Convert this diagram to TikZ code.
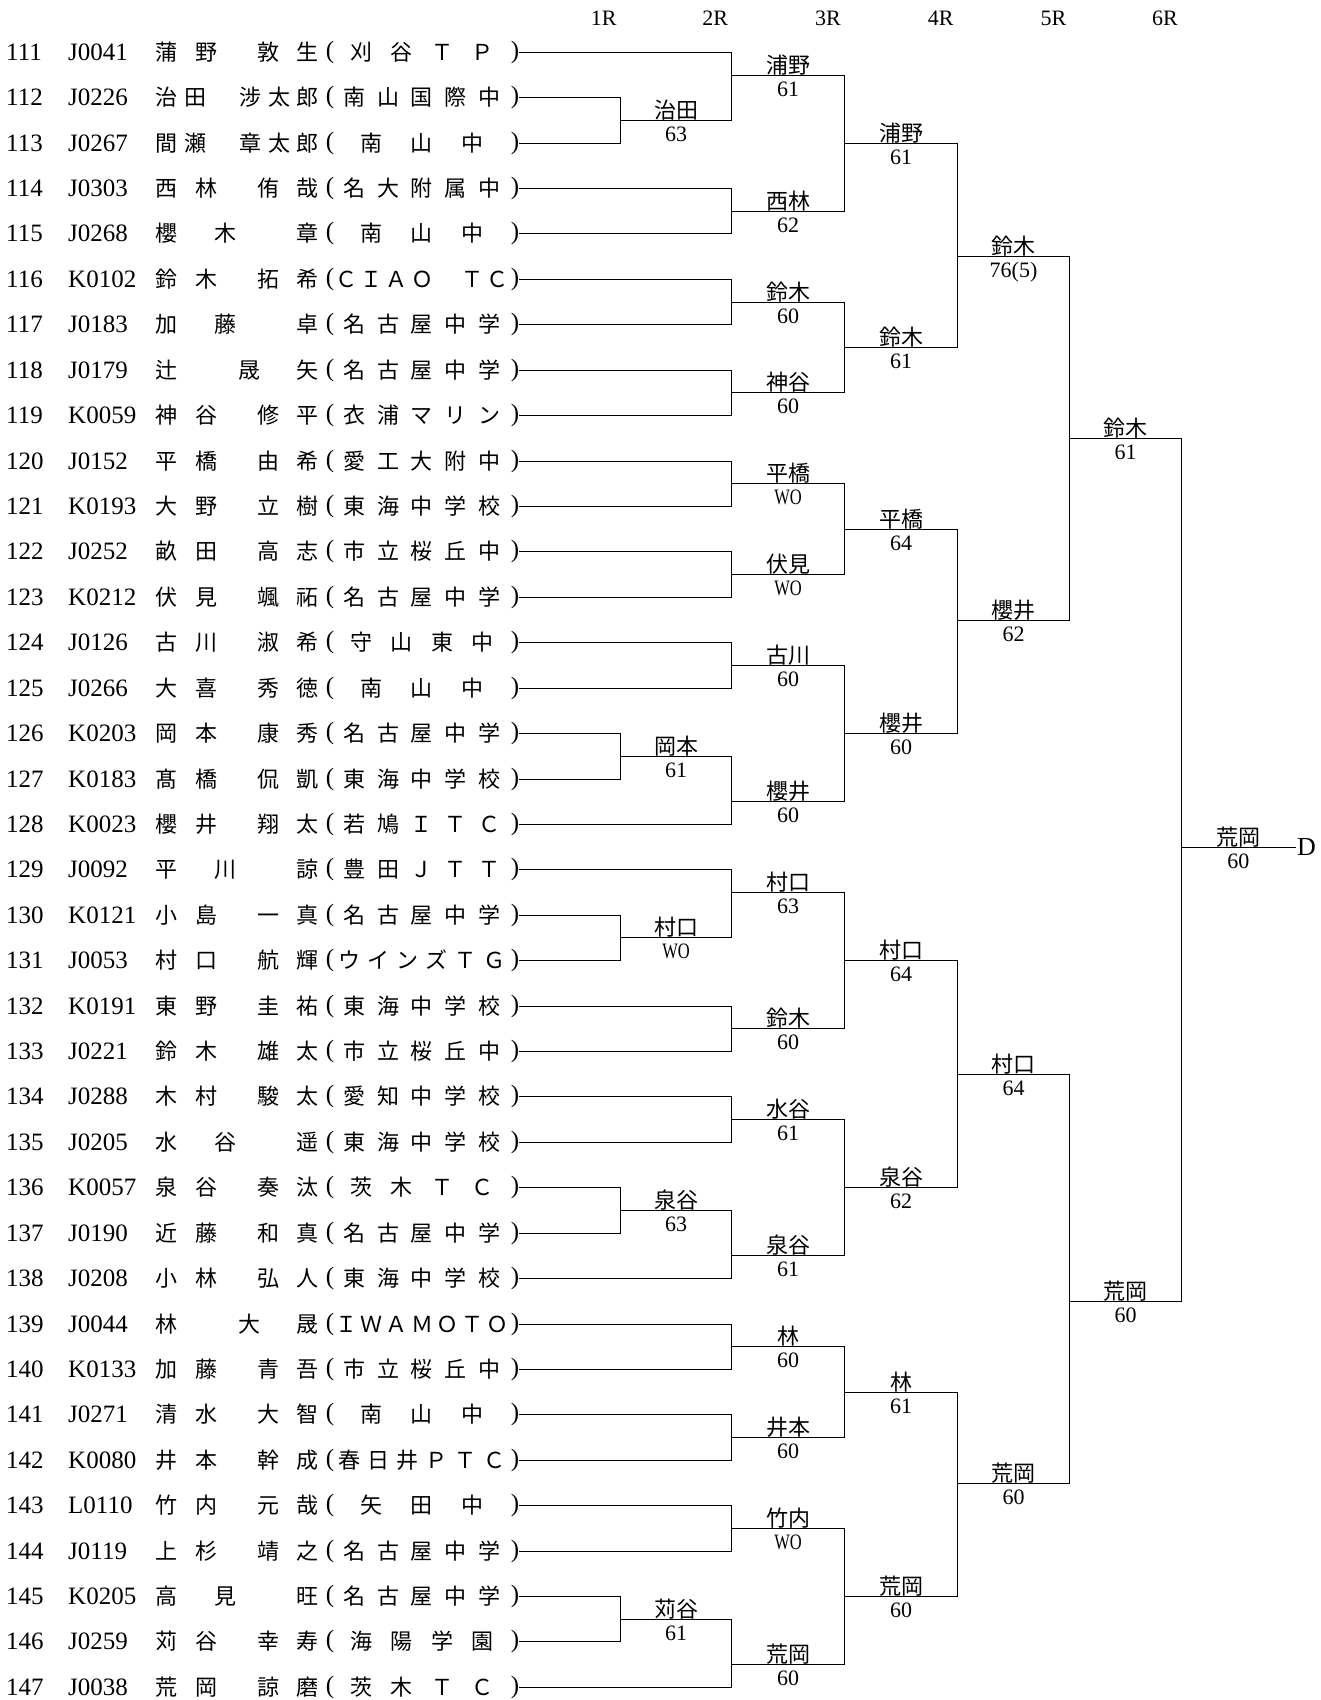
\documentclass[tikz,border=0pt]{standalone}
\usepackage{fontspec}
\newfontfamily\jpf{Noto Sans CJK JP}
\newfontfamily\numf{Liberation Serif}
\newfontfamily\numcf[FakeStretch=0.75]{Liberation Serif}
\newcommand\cjkfont{\jpf\fontsize{22pt}{22pt}\selectfont}
\newcommand\rowfont{\numf\fontsize{25pt}{25pt}\selectfont}
\newcommand\scorefont{\numf\fontsize{22pt}{22pt}\selectfont}
\newcommand\dfont{\numf\fontsize{26pt}{26pt}\selectfont}
\newcommand\wotxt{{\numcf WO}}
\newcommand\ideosp{\hbox to 1em{}}
\def\spreadchars#1{\hfil\spreadaux#1\relax}
\def\spreadaux#1{\ifx\relax#1\else#1\hfil\expandafter\spreadaux\fi}
\newcommand\cbox[1]{\hbox to 22pt{\hss#1\hss}}
\newcommand\nmAA[4]{\cbox{#1}\kern18pt\cbox{#2}\kern40pt\cbox{#3}\kern17pt\cbox{#4}}
\newcommand\nmAB[5]{\cbox{#1}\kern7pt\cbox{#2}\kern33pt\cbox{#3}\kern7pt\cbox{#4}\kern6pt\cbox{#5}}
\newcommand\nmAC[3]{\cbox{#1}\kern37pt\cbox{#2}\kern60pt\cbox{#3}}
\newcommand\nmCA[3]{\cbox{#1}\kern61pt\cbox{#2}\kern36pt\cbox{#3}}
\tikzset{
  br/.style={line width=1.2pt, line cap=rect, draw=black},
  cjk/.style={inner sep=0pt, font=\cjkfont},
  rowtxt/.style={inner sep=0pt, font=\rowfont},
  win/.style={anchor=base, inner sep=0pt, font=\cjkfont},
  sco/.style={anchor=base, inner sep=0pt, font=\scorefont}
}
\newcommand\plrow[6]{%
  \pgfmathsetmacro\yy{round(51.8+45.42*#1)+0.5}%
  \node[rowtxt, anchor=base west] (no#1) at (6,\yy+8.4) {#2};
  \node[rowtxt, anchor=base west] (cd#1) at (68,\yy+8.4) {#3};
  \node[cjk, anchor=base west] (nm#1) at (155,\yy+8.4) {#4};
  \node[rowtxt, anchor=center] (lp#1) at (330,\yy) {(};
  \node[cjk, anchor=base] (sc#1) at (422,\yy+8.4) {\hbox to 180pt{\spreadchars{#5}}};
  \node[rowtxt, anchor=center] (rp#1) at (515,\yy) {)};
  \coordinate (re#1) at (#6,\yy);
  \draw[br] (rp#1.east) -- (re#1);
}
\newcommand\bmatch[8]{%
  \pgfmathsetmacro\my{round(51.8+45.42*#4)+0.5}%
  \pgfmathsetmacro\mx{(#2+#3)/2}%
  \draw[br] (#5) -- (#6);
  \coordinate (#1-s) at (#2,\my);
  \coordinate (#1) at (#3,\my);
  \draw[br] (#1-s) -- (#1);
  \node[win] (#1-w) at (\mx,\my-2.5) {#7};
  \node[sco] (#1-c) at (\mx,\my+21) {#8};
}
\def\XA{620.5}\def\XB{731.5}\def\XC{844.5}\def\XD{957.5}\def\XE{1069.5}\def\XF{1181.5}\def\XG{1295}
\begin{document}
\begin{tikzpicture}[x=1pt,y=-1pt]
\useasboundingbox (0,0) rectangle (1320,1700);
\fill[white] (0,0) rectangle (1320,1700);
% headers
\foreach \hx/\hl [count=\k] in {603.6/1R, 715.2/2R, 828/3R, 940.7/4R, 1053.4/5R, 1165/6R}
  {\node[sco] (h\k) at (\hx,25) {\hl};}
% players
\plrow{0}{111}{J0041}{\nmAA{蒲}{野}{敦}{生}}{刈谷ＴＰ}{\XB}
\plrow{1}{112}{J0226}{\nmAB{治}{田}{涉}{太}{郎}}{南山国際中}{\XA}
\plrow{2}{113}{J0267}{\nmAB{間}{瀬}{章}{太}{郎}}{南山中}{\XA}
\plrow{3}{114}{J0303}{\nmAA{西}{林}{侑}{哉}}{名大附属中}{\XB}
\plrow{4}{115}{J0268}{\nmAC{櫻}{木}{章}}{南山中}{\XB}
\plrow{5}{116}{K0102}{\nmAA{鈴}{木}{拓}{希}}{ＣＩＡＯ\ideosp ＴＣ}{\XB}
\plrow{6}{117}{J0183}{\nmAC{加}{藤}{卓}}{名古屋中学}{\XB}
\plrow{7}{118}{J0179}{\nmCA{辻}{晟}{矢}}{名古屋中学}{\XB}
\plrow{8}{119}{K0059}{\nmAA{神}{谷}{修}{平}}{衣浦マリン}{\XB}
\plrow{9}{120}{J0152}{\nmAA{平}{橋}{由}{希}}{愛工大附中}{\XB}
\plrow{10}{121}{K0193}{\nmAA{大}{野}{立}{樹}}{東海中学校}{\XB}
\plrow{11}{122}{J0252}{\nmAA{畝}{田}{高}{志}}{市立桜丘中}{\XB}
\plrow{12}{123}{K0212}{\nmAA{伏}{見}{颯}{祏}}{名古屋中学}{\XB}
\plrow{13}{124}{J0126}{\nmAA{古}{川}{淑}{希}}{守山東中}{\XB}
\plrow{14}{125}{J0266}{\nmAA{大}{喜}{秀}{徳}}{南山中}{\XB}
\plrow{15}{126}{K0203}{\nmAA{岡}{本}{康}{秀}}{名古屋中学}{\XA}
\plrow{16}{127}{K0183}{\nmAA{髙}{橋}{侃}{凱}}{東海中学校}{\XA}
\plrow{17}{128}{K0023}{\nmAA{櫻}{井}{翔}{太}}{若鳩ＩＴＣ}{\XB}
\plrow{18}{129}{J0092}{\nmAC{平}{川}{諒}}{豊田ＪＴＴ}{\XB}
\plrow{19}{130}{K0121}{\nmAA{小}{島}{一}{真}}{名古屋中学}{\XA}
\plrow{20}{131}{J0053}{\nmAA{村}{口}{航}{輝}}{ウインズＴＧ}{\XA}
\plrow{21}{132}{K0191}{\nmAA{東}{野}{圭}{祐}}{東海中学校}{\XB}
\plrow{22}{133}{J0221}{\nmAA{鈴}{木}{雄}{太}}{市立桜丘中}{\XB}
\plrow{23}{134}{J0288}{\nmAA{木}{村}{駿}{太}}{愛知中学校}{\XB}
\plrow{24}{135}{J0205}{\nmAC{水}{谷}{遥}}{東海中学校}{\XB}
\plrow{25}{136}{K0057}{\nmAA{泉}{谷}{奏}{汰}}{茨木ＴＣ}{\XA}
\plrow{26}{137}{J0190}{\nmAA{近}{藤}{和}{真}}{名古屋中学}{\XA}
\plrow{27}{138}{J0208}{\nmAA{小}{林}{弘}{人}}{東海中学校}{\XB}
\plrow{28}{139}{J0044}{\nmCA{林}{大}{晟}}{ＩＷＡＭＯＴＯ}{\XB}
\plrow{29}{140}{K0133}{\nmAA{加}{藤}{青}{吾}}{市立桜丘中}{\XB}
\plrow{30}{141}{J0271}{\nmAA{清}{水}{大}{智}}{南山中}{\XB}
\plrow{31}{142}{K0080}{\nmAA{井}{本}{幹}{成}}{春日井ＰＴＣ}{\XB}
\plrow{32}{143}{L0110}{\nmAA{竹}{内}{元}{哉}}{矢田中}{\XB}
\plrow{33}{144}{J0119}{\nmAA{上}{杉}{靖}{之}}{名古屋中学}{\XB}
\plrow{34}{145}{K0205}{\nmAC{高}{見}{旺}}{名古屋中学}{\XA}
\plrow{35}{146}{J0259}{\nmAA{苅}{谷}{幸}{寿}}{海陽学園}{\XA}
\plrow{36}{147}{J0038}{\nmAA{荒}{岡}{諒}{磨}}{茨木ＴＣ}{\XB}
% 1R
\bmatch{m1a}{\XA}{\XB}{1.5}{re1}{re2}{治田}{63}
\bmatch{m1b}{\XA}{\XB}{15.5}{re15}{re16}{岡本}{61}
\bmatch{m1c}{\XA}{\XB}{19.5}{re19}{re20}{村口}{\wotxt}
\bmatch{m1d}{\XA}{\XB}{25.5}{re25}{re26}{泉谷}{63}
\bmatch{m1e}{\XA}{\XB}{34.5}{re34}{re35}{苅谷}{61}
% 2R
\bmatch{m2a}{\XB}{\XC}{0.5}{re0}{m1a}{浦野}{61}
\bmatch{m2b}{\XB}{\XC}{3.5}{re3}{re4}{西林}{62}
\bmatch{m2c}{\XB}{\XC}{5.5}{re5}{re6}{鈴木}{60}
\bmatch{m2d}{\XB}{\XC}{7.5}{re7}{re8}{神谷}{60}
\bmatch{m2e}{\XB}{\XC}{9.5}{re9}{re10}{平橋}{\wotxt}
\bmatch{m2f}{\XB}{\XC}{11.5}{re11}{re12}{伏見}{\wotxt}
\bmatch{m2g}{\XB}{\XC}{13.5}{re13}{re14}{古川}{60}
\bmatch{m2h}{\XB}{\XC}{16.5}{m1b}{re17}{櫻井}{60}
\bmatch{m2i}{\XB}{\XC}{18.5}{re18}{m1c}{村口}{63}
\bmatch{m2j}{\XB}{\XC}{21.5}{re21}{re22}{鈴木}{60}
\bmatch{m2k}{\XB}{\XC}{23.5}{re23}{re24}{水谷}{61}
\bmatch{m2l}{\XB}{\XC}{26.5}{m1d}{re27}{泉谷}{61}
\bmatch{m2m}{\XB}{\XC}{28.5}{re28}{re29}{林}{60}
\bmatch{m2n}{\XB}{\XC}{30.5}{re30}{re31}{井本}{60}
\bmatch{m2o}{\XB}{\XC}{32.5}{re32}{re33}{竹内}{\wotxt}
\bmatch{m2p}{\XB}{\XC}{35.5}{m1e}{re36}{荒岡}{60}
% 3R
\bmatch{m3a}{\XC}{\XD}{2.0}{m2a}{m2b}{浦野}{61}
\bmatch{m3b}{\XC}{\XD}{6.5}{m2c}{m2d}{鈴木}{61}
\bmatch{m3c}{\XC}{\XD}{10.5}{m2e}{m2f}{平橋}{64}
\bmatch{m3d}{\XC}{\XD}{15.0}{m2g}{m2h}{櫻井}{60}
\bmatch{m3e}{\XC}{\XD}{20.0}{m2i}{m2j}{村口}{64}
\bmatch{m3f}{\XC}{\XD}{25.0}{m2k}{m2l}{泉谷}{62}
\bmatch{m3g}{\XC}{\XD}{29.5}{m2m}{m2n}{林}{61}
\bmatch{m3h}{\XC}{\XD}{34.0}{m2o}{m2p}{荒岡}{60}
% 4R
\bmatch{m4a}{\XD}{\XE}{4.5}{m3a}{m3b}{鈴木}{76(5)}
\bmatch{m4b}{\XD}{\XE}{12.5}{m3c}{m3d}{櫻井}{62}
\bmatch{m4c}{\XD}{\XE}{22.5}{m3e}{m3f}{村口}{64}
\bmatch{m4d}{\XD}{\XE}{31.5}{m3g}{m3h}{荒岡}{60}
% 5R
\bmatch{m5a}{\XE}{\XF}{8.5}{m4a}{m4b}{鈴木}{61}
\bmatch{m5b}{\XE}{\XF}{27.5}{m4c}{m4d}{荒岡}{60}
% 6R
\bmatch{m6a}{\XF}{\XG}{17.5}{m5a}{m5b}{荒岡}{60}
\node[anchor=west, inner sep=0pt, font=\dfont] (dd) at ([xshift=2pt]m6a) {D};
\end{tikzpicture}
\end{document}
